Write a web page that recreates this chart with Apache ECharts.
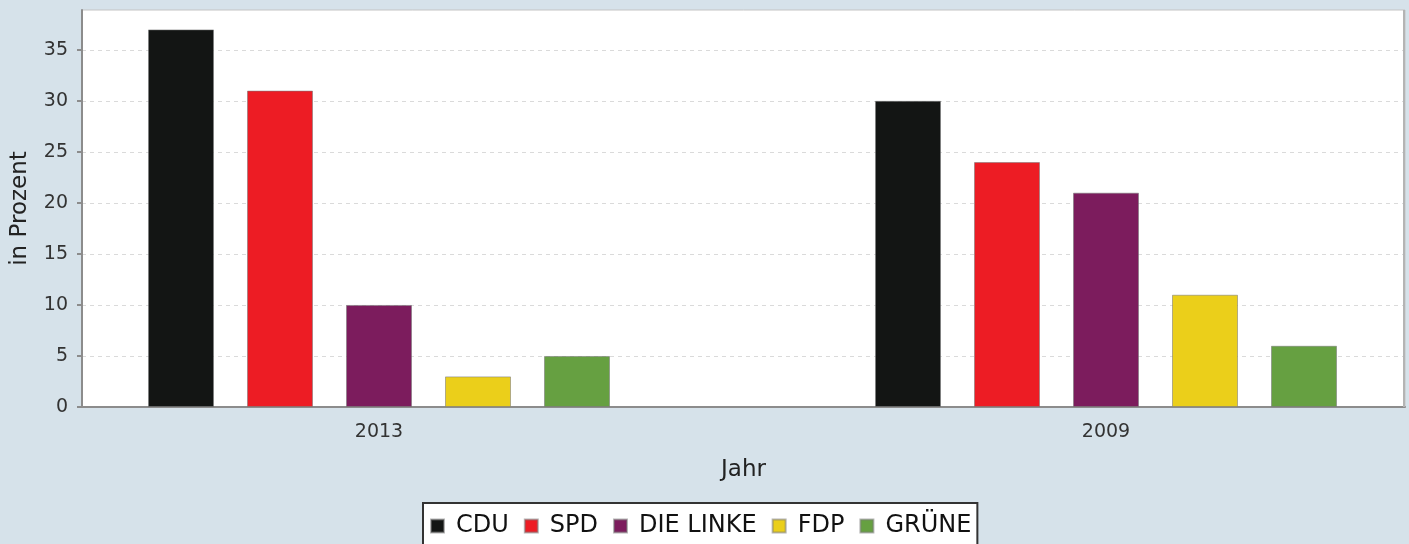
<!DOCTYPE html>
<html>
<head>
<meta charset="utf-8">
<script src="https://cdn.jsdelivr.net/npm/echarts@6/dist/echarts.min.js"></script>
<style>
html,body{margin:0;padding:0;background:#d6e2ea;}
#chart{width:1409px;height:544px;}
</style>
</head>
<body>
<div id="chart"></div>
<script>
const categories = ['2013', '2009'];
const parties = ['CDU', 'SPD', 'DIE LINKE', 'FDP', 'GRÜNE'];
const cdu = [37, 30];
const spd = [31, 24];
const linke = [10, 21];
const fdp = [3, 11];
const gruene = [5, 6];
const yTicks = [0, 5, 10, 15, 20, 25, 30, 35];
const yMax = 38.9;

const partyData = [cdu, spd, linke, fdp, gruene];
const colors = ['#131514', '#ed1c24', '#7c1c5d', '#ebcf1a', '#66a041'];
const FONT = 'DejaVu Sans';

const chart = echarts.init(document.getElementById('chart'), null, {renderer: 'canvas'});
chart.setOption({
  backgroundColor: '#d6e2ea',
  animation: false,
  textStyle: {fontFamily: FONT},
  grid: [
    {left: 82, right: 4, top: 10, bottom: 137, show: true, backgroundColor: '#ffffff',
     borderColor: '#c4c4c4', borderWidth: 1, containLabel: false, outerBoundsMode: 'none'},
    {left: 15.5, width: 1454, top: 10, bottom: 137, containLabel: false, outerBoundsMode: 'none'}
  ],
  legend: {
    data: parties,
    left: 423, top: 503,
    orient: 'horizontal',
    backgroundColor: '#ffffff',
    borderColor: '#333333',
    borderWidth: 2,
    borderRadius: 0,
    padding: [11, 6, 14, 7],
    itemWidth: 13, itemHeight: 13, itemGap: 15,
    icon: 'rect',
    selectedMode: false,
    textStyle: {fontFamily: FONT, fontSize: 24, color: '#111', padding: [0, 0, 0, 7]}
  },
  xAxis: [
    {gridIndex: 0, type: 'category', data: [''],
     name: 'Jahr', nameLocation: 'middle', nameGap: 52,
     nameTextStyle: {fontFamily: FONT, fontSize: 23, color: '#222'},
     axisLine: {show: true, lineStyle: {color: '#8c8c8c', width: 2}},
     axisTick: {show: false}, axisLabel: {show: false}, splitLine: {show: false}},
    {gridIndex: 1, type: 'category', data: categories,
     axisLine: {show: false}, axisTick: {show: false},
     axisLabel: {fontFamily: FONT, fontSize: 19, color: '#333', margin: 16},
     splitLine: {show: false}}
  ],
  yAxis: [
    {gridIndex: 0, type: 'value', min: 0, max: yMax,
     name: 'in Prozent', nameLocation: 'middle', nameGap: 50, nameRotate: 90,
     nameTextStyle: {fontFamily: FONT, fontSize: 23, color: '#222'},
     axisLine: {show: true, lineStyle: {color: '#8c8c8c', width: 2}},
     axisTick: {show: true, length: 5, lineStyle: {color: '#8c8c8c', width: 2}, customValues: yTicks},
     axisLabel: {fontFamily: FONT, fontSize: 19, color: '#333', margin: 14, customValues: yTicks},
     splitLine: {show: true, lineStyle: {color: '#dadada', width: 1, type: [4, 4]}}},
    {gridIndex: 1, type: 'value', min: 0, max: yMax, show: false, splitLine: {show: false}}
  ],
  series: parties.map((p, i) => ({
    name: p,
    type: 'bar',
    xAxisIndex: 1,
    yAxisIndex: 1,
    data: partyData[i],
    barWidth: 66,
    barGap: '50%',
    itemStyle: {color: colors[i], borderColor: 'rgba(120,120,120,0.55)', borderWidth: 1}
  })),
  graphic: [
    {type: 'line', shape: {x1: 1404, y1: 10, x2: 1404, y2: 407}, style: {stroke: '#b4b4b4', lineWidth: 2}, z: 10}
  ]
});
</script>
</body>
</html>
